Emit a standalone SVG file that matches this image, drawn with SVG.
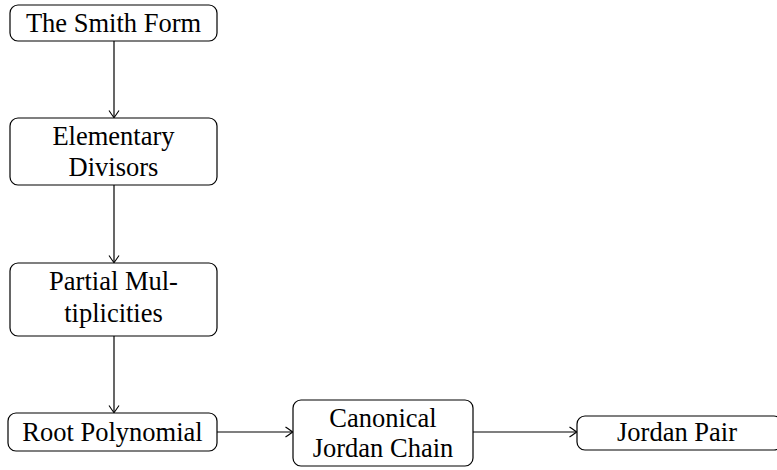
<svg xmlns="http://www.w3.org/2000/svg" width="777" height="470" viewBox="0 0 777 470">
<style>
.box{fill:#fff;stroke:#000;stroke-width:1.2}
.t{font-family:"Liberation Serif","Times New Roman",serif;font-size:26.5px;fill:#000;text-anchor:middle}
.c{stroke:#000;stroke-width:1.2;fill:none}
</style>
<defs>
<marker id="arr" viewBox="-8 -6 10 12" markerWidth="10" markerHeight="12" refX="0" refY="0" orient="auto" markerUnits="userSpaceOnUse">
<path d="M-7,-5 Q-1,-1 0,0 Q-1,1 -7,5" fill="none" stroke="#000" stroke-width="1.1"/>
</marker>
</defs>
<g id="connectors">
<line class="c" x1="114" y1="41" x2="114" y2="117.5" marker-end="url(#arr)"/>
<line class="c" x1="114" y1="185" x2="114" y2="262.5" marker-end="url(#arr)"/>
<line class="c" x1="114" y1="336" x2="114" y2="412.5" marker-end="url(#arr)"/>
<line class="c" x1="217" y1="432" x2="292.5" y2="432" marker-end="url(#arr)"/>
<line class="c" x1="473" y1="432" x2="576.5" y2="432" marker-end="url(#arr)"/>
</g>
<g id="n1"><rect class="box" x="10" y="5" width="207" height="36" rx="8"/><text class="t" x="113.5" y="32">The Smith Form</text></g>
<g id="n2"><rect class="box" x="10" y="118" width="207" height="67" rx="8"/><text class="t" x="113.5" y="145">Elementary</text><text class="t" x="113.5" y="176">Divisors</text></g>
<g id="n3"><rect class="box" x="10" y="263" width="207" height="73" rx="8"/><text class="t" x="113.5" y="290">Partial Mul-</text><text class="t" x="113.5" y="322">tiplicities</text></g>
<g id="n4"><rect class="box" x="8" y="413" width="209" height="38" rx="8"/><text class="t" x="112.5" y="441">Root Polynomial</text></g>
<g id="n5"><rect class="box" x="293" y="400" width="180" height="66" rx="8"/><text class="t" x="383" y="427">Canonical</text><text class="t" x="383" y="457">Jordan Chain</text></g>
<g id="n6"><rect class="box" x="577" y="416" width="205" height="34" rx="8"/><text class="t" x="677" y="441">Jordan Pair</text></g>
</svg>
